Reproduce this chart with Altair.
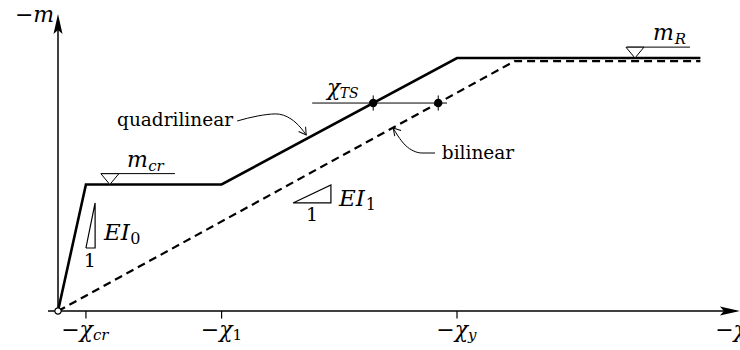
import altair as alt
import pandas as pd

# Normalised units: curvature chi with chi_y = 1, moment m with m_R = 1
chi_cr, chi_1, chi_y = 0.07, 0.41, 1.0
chi_u = 1.145          # yield curvature of the bilinear law
chi_end = 1.61
m_cr, m_R = 0.5, 1.0
m_R_bi = 0.988
m_TS = 0.822

quad_chi = [0.0, chi_cr, chi_1, chi_y, chi_end]
quad_m = [0.0, m_cr, m_cr, m_R, m_R]
bi_chi = [0.0, chi_u, chi_end]
bi_m = [0.0, m_R_bi, m_R_bi]

tick_vals = [chi_cr, chi_1, chi_y]
tick_main = ["−χ", "−χ", "−χ"]
tick_sub = ["cr", "1", "y"]
tick_sub_style = ["italic", "normal", "italic"]
tick_dx = [7, 11, 11]

ts_chi = [0.79, 0.953]          # tension-stiffening points on both laws
ts_span = [0.637, 0.975]

# slope triangles (chi, m) and their leaders
tri0_chi = [0.070, 0.093, 0.093, 0.070]
tri0_m = [0.249, 0.249, 0.427, 0.249]
tri1_chi = [0.589, 0.684, 0.684, 0.589]
tri1_m = [0.427, 0.427, 0.498, 0.427]

quad_lead_chi = [0.449, 0.501, 0.546, 0.584, 0.609, 0.622]
quad_lead_m = [0.751, 0.771, 0.779, 0.759, 0.723, 0.696]
bi_lead_chi = [0.840, 0.852, 0.870, 0.892, 0.912, 0.945]
bi_lead_m = [0.723, 0.692, 0.656, 0.632, 0.6245, 0.6245]

X_DOM = [-58 / 399, 682 / 399]
Y_DOM = [-39 / 253, 311 / 253]
FONT = "DejaVu Serif"

X = alt.X("x:Q", scale=alt.Scale(domain=X_DOM, nice=False, zero=False), axis=None)
Y = alt.Y("y:Q", scale=alt.Scale(domain=Y_DOM, nice=False, zero=False), axis=None)


def pts(xs, ys):
    return pd.DataFrame({"x": xs, "y": ys, "o": list(range(len(xs)))})


def line(xs, ys, **kw):
    return alt.Chart(pts(xs, ys)).mark_line(color="black", **kw).encode(x=X, y=Y, order="o:Q")


def hrule(x1, x2, y, **kw):
    df = pd.DataFrame({"x": [x1], "x2": [x2], "y": [y]})
    return alt.Chart(df).mark_rule(color="black", **kw).encode(x=X, x2="x2:Q", y=Y)


def vrules(xs, y1, y2, **kw):
    df = pd.DataFrame({"x": xs, "y": [y1] * len(xs), "y2": [y2] * len(xs)})
    return alt.Chart(df).mark_rule(color="black", **kw).encode(x=X, y=Y, y2="y2:Q")


def symbol(xs, ys, **kw):
    return alt.Chart(pts(xs, ys)).mark_point(**kw).encode(x=X, y=Y)


def text(xs, ys, labels, **kw):
    df = pd.DataFrame({"x": xs, "y": ys, "t": labels})
    opts = dict(font=FONT, baseline="alphabetic", align="left", color="black")
    opts.update(kw)
    return alt.Chart(df).mark_text(**opts).encode(x=X, y=Y, text="t:N")


ARROW = "M1,0 L-1,-0.45 L-0.6,0 L-1,0.45 Z"
VHEAD = "M-1,-0.6 L0,0 L-1,0.6"
TRI = "M-1,-1.2 L1,-1.2 L0,0 Z"

layers = [
    # axes with arrowheads
    hrule(-0.025, 1.70, 0.0, strokeWidth=1.5),
    vrules([0.0], 0.0, 1.12, strokeWidth=1.5),
    symbol([1.684], [0.0], shape=ARROW, size=400, filled=True, color="black", opacity=1),
    symbol([0.0], [1.134], shape=ARROW, size=400, filled=True, color="black", opacity=1, angle=270),
    vrules(tick_vals, 0.0, -0.03, strokeWidth=1.2),
    # moment-curvature laws
    line(bi_chi, bi_m, strokeWidth=2.2, strokeDash=[8, 5]),
    line(quad_chi, quad_m, strokeWidth=2.6),
    symbol([0.0], [0.0], shape="circle", size=40, filled=True, fill="white",
           stroke="black", strokeWidth=1.2, opacity=1),
    # tension-stiffening level
    hrule(ts_span[0], ts_span[1], m_TS, strokeWidth=1),
    vrules(ts_chi, m_TS - 0.03, m_TS + 0.03, strokeWidth=1),
    symbol(ts_chi, [m_TS, m_TS], shape="circle", size=70, filled=True, color="black", opacity=1),
    # level markers
    hrule(0.108, 0.293, m_cr + 0.043, strokeWidth=1),
    symbol([0.130], [m_cr], shape=TRI, size=324, filled=True, fill="white",
           stroke="black", strokeWidth=1, opacity=1),
    hrule(1.426, 1.584, m_R + 0.043, strokeWidth=1),
    symbol([1.446], [m_R], shape=TRI, size=324, filled=True, fill="white",
           stroke="black", strokeWidth=1, opacity=1),
    # slope triangles
    line(tri0_chi, tri0_m, strokeWidth=1.2, strokeJoin="miter"),
    line(tri1_chi, tri1_m, strokeWidth=1.2, strokeJoin="miter"),
    # leaders for the curve names
    line(quad_lead_chi, quad_lead_m, strokeWidth=1, interpolate="monotone"),
    symbol([quad_lead_chi[-1]], [quad_lead_m[-1]], shape=VHEAD, size=200, filled=False,
           color="black", strokeWidth=1, opacity=1, angle=55),
    line(bi_lead_chi, bi_lead_m, strokeWidth=1, interpolate="monotone"),
    symbol([bi_lead_chi[0]], [bi_lead_m[0]], shape=VHEAD, size=200, filled=False,
           color="black", strokeWidth=1, opacity=1, angle=228),
    # axis titles
    text([-0.108], [1.142], ["−m"], fontSize=22, fontStyle="italic"),
    text([1.647], [-0.103], ["−χ"], fontSize=22, fontStyle="italic"),
]

# tick labels with subscripts
for v, main, sub, style, dx in zip(tick_vals, tick_main, tick_sub, tick_sub_style, tick_dx):
    layers.append(text([v], [-0.102], [main], fontSize=22, fontStyle="italic",
                       align="right", dx=dx))
    layers.append(text([v], [-0.116], [sub], fontSize=15, fontStyle=style, dx=dx))

layers += [
    # curve names
    text([0.148], [0.731], ["quadrilinear"], fontSize=18.5),
    text([0.962], [0.601], ["bilinear"], fontSize=18.5),
    # level labels
    text([0.173], [0.569], ["m"], fontSize=22, fontStyle="italic"),
    text([0.226], [0.553], ["cr"], fontSize=15, fontStyle="italic"),
    text([1.491], [1.071], ["m"], fontSize=22, fontStyle="italic"),
    text([1.546], [1.055], ["R"], fontSize=15, fontStyle="italic"),
    text([0.674], [0.854], ["χ"], fontSize=22, fontStyle="italic"),
    text([0.706], [0.842], ["TS"], fontSize=14, fontStyle="italic"),
    # stiffness labels
    text([0.080], [0.174], ["1"], fontSize=19, align="center"),
    text([0.1153], [0.2806], ["EI"], fontSize=23, fontStyle="italic"),
    text([0.181], [0.265], ["0"], fontSize=16),
    text([0.6366], [0.3557], ["1"], fontSize=19, align="center"),
    text([0.704], [0.415], ["EI"], fontSize=23, fontStyle="italic"),
    text([0.771], [0.399], ["1"], fontSize=16),
]

chart = alt.layer(*layers).properties(
    width=740, height=350, padding=0,
    autosize=alt.AutoSizeParams(type="none"),
).configure_view(stroke=None)

chart.save("out.html", embed_options={"renderer": "svg", "actions": False})
